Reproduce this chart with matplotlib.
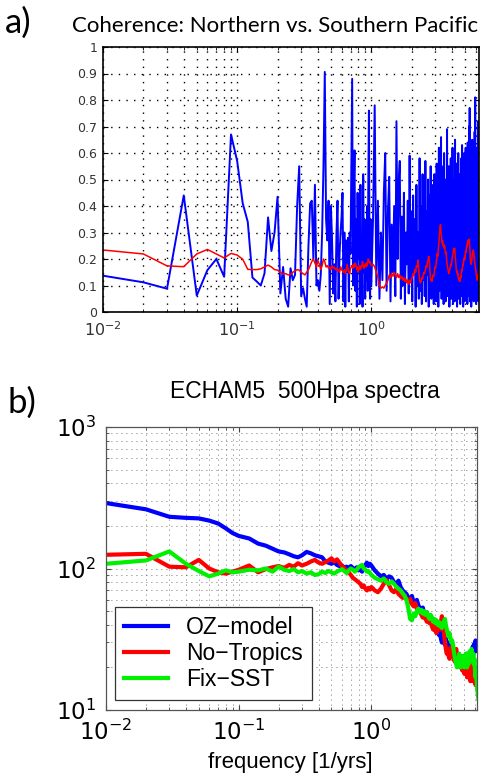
import numpy as np
import matplotlib
matplotlib.use("Agg")
import matplotlib.pyplot as plt
from matplotlib.ticker import FuncFormatter, NullFormatter

plt.rcParams["mathtext.fontset"] = "custom"
plt.rcParams["mathtext.rm"] = "Liberation Sans"
plt.rcParams["mathtext.it"] = "Liberation Sans:italic"
plt.rcParams["mathtext.bf"] = "Liberation Sans:bold"

# ---------------- a) coherence ----------------
# frequency grid [1/yrs]: 0.01 steps up to 1, then 0.03 steps up to 6.4
freq_lo = np.arange(1, 101) / 100
freq_hi = np.arange(103, 641, 3) / 100

coh_blue_lo = [0.137, 0.112, 0.088, 0.44, 0.062, 0.158, 0.20, 0.133, 0.67, 0.57,
               0.41, 0.34, 0.13, 0.115, 0.10, 0.146, 0.357, 0.23, 0.30, 0.435,
               0.07, 0.17, 0.05, 0.02, 0.165, 0.12, 0.14, 0.40, 0.55,
               0.06, 0.09, 0.05, 0.02, 0.25, 0.41, 0.42, 0.20, 0.48, 0.10,
               0.12, 0.08, 0.14, 0.30, 0.55, 0.906, 0.35, 0.27, 0.42, 0.03,
               0.40, 0.27, 0.07, 0.18, 0.04, 0.30, 0.42, 0.05, 0.22, 0.30,
               0.36, 0.45, 0.04, 0.30, 0.02, 0.27, 0.15, 0.28, 0.04, 0.30,
               0.22, 0.55, 0.88, 0.10, 0.45, 0.61, 0.08, 0.35, 0.02, 0.45,
               0.20, 0.30, 0.03, 0.48, 0.10, 0.25, 0.02, 0.52, 0.15, 0.35,
               0.05, 0.30, 0.12, 0.40, 0.08, 0.50, 0.76, 0.20, 0.05, 0.35,
               0.10]
coh_blue_hi = [0.35, 0.78, 0.10, 0.42, 0.05, 0.30, 0.12, 0.45, 0.60, 0.08,
               0.38, 0.51, 0.04, 0.33, 0.15, 0.40, 0.06, 0.72, 0.20, 0.49,
               0.57, 0.05, 0.36, 0.10, 0.45, 0.03, 0.30, 0.18, 0.42, 0.07,
               0.59, 0.12, 0.38, 0.04, 0.44, 0.15, 0.35, 0.02, 0.48, 0.10,
               0.30, 0.05, 0.58, 0.08, 0.40, 0.03, 0.52, 0.12, 0.45, 0.06,
               0.57, 0.04, 0.38, 0.14, 0.50, 0.02, 0.44, 0.09, 0.55, 0.05,
               0.36, 0.18, 0.48, 0.03, 0.52, 0.10, 0.40, 0.04, 0.56, 0.12,
               0.45, 0.02, 0.62, 0.08, 0.48, 0.15, 0.66, 0.05, 0.42, 0.10,
               0.55, 0.03, 0.60, 0.14, 0.38, 0.04, 0.50, 0.09, 0.69, 0.06,
               0.46, 0.18, 0.55, 0.02, 0.42, 0.12, 0.58, 0.05, 0.40, 0.16,
               0.62, 0.03, 0.50, 0.10, 0.45, 0.04, 0.65, 0.12, 0.38, 0.06,
               0.56, 0.02, 0.48, 0.15, 0.60, 0.05, 0.44, 0.10, 0.52, 0.03,
               0.40, 0.18, 0.58, 0.06, 0.63, 0.12, 0.45, 0.02, 0.55, 0.09,
               0.60, 0.04, 0.48, 0.14, 0.62, 0.05, 0.42, 0.11, 0.57, 0.03,
               0.64, 0.16, 0.50, 0.06, 0.70, 0.10, 0.77, 0.04, 0.55, 0.13,
               0.60, 0.02, 0.46, 0.12, 0.65, 0.05, 0.52, 0.18, 0.62, 0.04,
               0.58, 0.10, 0.68, 0.06, 0.81, 0.14, 0.55, 0.03, 0.62, 0.09,
               0.50, 0.05, 0.60, 0.15, 0.72, 0.04, 0.58, 0.10, 0.45, 0.06]

coh_red_lo = [0.234, 0.219, 0.174, 0.171, 0.219, 0.236, 0.219, 0.204, 0.221, 0.215,
              0.199, 0.161, 0.16, 0.16, 0.163, 0.17, 0.177, 0.17, 0.16, 0.158,
              0.15, 0.143, 0.145, 0.14, 0.142, 0.15, 0.155, 0.16, 0.158, 0.15,
              0.145, 0.14, 0.15, 0.16, 0.175, 0.19, 0.2, 0.185, 0.17, 0.195,
              0.18, 0.16, 0.175, 0.2, 0.19, 0.17, 0.175, 0.165, 0.17, 0.16,
              0.175, 0.165, 0.17, 0.16, 0.165, 0.155, 0.16, 0.15, 0.17, 0.16,
              0.155, 0.15, 0.16, 0.145, 0.155, 0.18, 0.16, 0.15, 0.145, 0.165,
              0.17, 0.175, 0.165, 0.18, 0.17, 0.185, 0.175, 0.16, 0.17, 0.15,
              0.165, 0.175, 0.16, 0.17, 0.175, 0.19, 0.17, 0.165, 0.175, 0.18,
              0.17, 0.185, 0.175, 0.19, 0.2, 0.19, 0.185, 0.19, 0.18, 0.175]
coh_red_hi = [0.18, 0.17, 0.15, 0.13, 0.10, 0.09, 0.095, 0.09, 0.10, 0.11,
              0.12, 0.14, 0.13, 0.145, 0.135, 0.15, 0.14, 0.13, 0.145, 0.13,
              0.14, 0.125, 0.135, 0.12, 0.13, 0.115, 0.125, 0.11, 0.12, 0.105,
              0.12, 0.11, 0.125, 0.13, 0.145, 0.14, 0.16, 0.15, 0.175, 0.17,
              0.196, 0.16, 0.12, 0.11, 0.115, 0.13, 0.125, 0.14, 0.15, 0.145,
              0.16, 0.175, 0.17, 0.185, 0.2, 0.21, 0.19, 0.15, 0.12, 0.125,
              0.115, 0.13, 0.14, 0.135, 0.15, 0.17, 0.165, 0.18, 0.2, 0.22,
              0.21, 0.24, 0.26, 0.29, 0.32, 0.33, 0.30, 0.28, 0.26, 0.27,
              0.25, 0.255, 0.24, 0.25, 0.23, 0.22, 0.225, 0.2, 0.18, 0.17,
              0.16, 0.15, 0.145, 0.155, 0.16, 0.17, 0.18, 0.175, 0.19, 0.2,
              0.21, 0.22, 0.225, 0.24, 0.23, 0.24, 0.22, 0.2, 0.18, 0.16,
              0.15, 0.155, 0.14, 0.145, 0.13, 0.125, 0.12, 0.13, 0.115, 0.12,
              0.135, 0.13, 0.15, 0.16, 0.155, 0.17, 0.18, 0.175, 0.19, 0.2,
              0.195, 0.21, 0.2, 0.22, 0.23, 0.225, 0.24, 0.25, 0.245, 0.26,
              0.255, 0.27, 0.265, 0.275, 0.26, 0.27, 0.25, 0.23, 0.2, 0.19,
              0.18, 0.185, 0.19, 0.2, 0.21, 0.22, 0.225, 0.23, 0.234, 0.225,
              0.21, 0.2, 0.19, 0.18, 0.17, 0.165, 0.16, 0.15, 0.14, 0.13,
              0.125, 0.12, 0.13, 0.125, 0.14, 0.135, 0.15, 0.145, 0.16, 0.15]

# ---------------- b) ECHAM5 500hPa spectra ----------------
freq_b = np.concatenate([np.arange(1, 11) / 100,
                         np.arange(12, 31, 2) / 100,
                         np.arange(325, 1001, 25) / 1000,
                         np.arange(106, 641, 6) / 100])
labels_b = ["OZ\u2212model", "No\u2212Tropics", "Fix\u2212SST"]
colors_b = ["#0000ff", "#ff0000", "#00f000"]

spec_oz = [290, 262, 232, 228, 226, 218, 208, 192, 178, 170,
           163, 150, 145, 138, 132, 130, 126, 122, 120, 124,
           131, 128, 124, 122, 120, 112, 110, 108, 111, 106,
           104, 105, 101, 103, 100, 104, 101, 98, 102, 97,
           99, 95, 101, 106, 110, 104, 108, 105,
           97, 92, 88, 90, 84, 88, 86, 80, 78, 82,
           74, 70, 68, 66, 62, 60, 64, 58, 56, 60,
           55, 52, 50, 53, 48, 46, 49, 44, 42, 45,
           40, 38, 41, 37, 35, 38, 34, 36, 32, 30,
           33, 31, 29, 32, 28, 27, 30, 26, 25, 28,
           24, 26, 23, 25, 22, 24, 21, 23, 25, 22,
           21, 24, 20, 22, 24, 21, 23, 20, 22, 25,
           21, 19, 22, 24, 20, 23, 26, 21, 24, 28,
           25, 29, 26, 30, 31, 27, 30, 26, 28, 29]
spec_notrop = [125, 127, 103, 102, 115, 100, 94, 92, 95, 98,
               105, 94, 99, 102, 104, 101, 106, 103, 109, 105,
               108, 112, 115, 110, 108, 111, 114, 118, 112, 116,
               110, 104, 100, 97, 94, 90, 86, 84, 82, 80,
               78, 74, 76, 72, 70, 73, 71, 74,
               70, 68, 72, 78, 83, 76, 70, 68, 72, 66,
               64, 62, 65, 60, 58, 61, 56, 54, 57, 52,
               49, 51, 47, 45, 48, 44, 42, 45, 41, 43,
               39, 37, 40, 36, 35, 38, 40, 37, 42, 46,
               40, 35, 30, 27, 25, 27, 24, 23, 26, 28,
               25, 27, 24, 22, 25, 27, 23, 21, 24, 22,
               20, 23, 21, 19, 22, 20, 18, 21, 23, 20,
               17, 19, 22, 20, 18, 16, 19, 21, 18, 16,
               19, 17, 20, 18, 15, 17, 19, 16, 14, 14]
spec_fixsst = [108, 114, 132, 108, 96, 88, 92, 97, 94, 95,
               98, 97, 100, 95, 103, 98, 96, 99, 94, 96,
               92, 94, 90, 91, 95, 93, 96, 94, 92, 95,
               97, 99, 96, 93, 97, 100, 98, 95, 98, 102,
               104, 106, 100, 98, 95, 96, 93, 90,
               86, 84, 82, 85, 80, 78, 81, 78, 74, 72,
               70, 67, 64, 60, 52, 44, 43, 48, 46, 50,
               52, 49, 51, 48, 50, 47, 49, 46, 44, 47,
               45, 42, 44, 41, 43, 40, 42, 39, 41, 38,
               40, 42, 44, 40, 37, 35, 33, 35, 32, 30,
               31, 29, 26, 24, 22, 21, 20, 21, 23, 25,
               22, 20, 22, 24, 21, 23, 20, 22, 25, 22,
               20, 23, 21, 24, 26, 22, 25, 27, 24, 22,
               25, 21, 23, 19, 17, 20, 16, 14, 13, 12]

assert len(coh_blue_lo) == len(freq_lo) and len(coh_red_lo) == len(freq_lo)
assert len(coh_blue_hi) == len(freq_hi) and len(coh_red_hi) == len(freq_hi)
assert len(spec_oz) == len(freq_b) == len(spec_notrop) == len(spec_fixsst)

W, H = 483, 779
fig = plt.figure(figsize=(W / 100, H / 100), dpi=100)

# ---- panel a ----
ax1 = fig.add_axes([103 / W, 1 - 312 / H, (479 - 103) / W, (312 - 47) / H])
f_coh = np.concatenate([freq_lo, freq_hi])
ax1.plot(f_coh, coh_blue_lo + coh_blue_hi, color="#0000ff", lw=1.4)
ax1.plot(f_coh, coh_red_lo + coh_red_hi, color="#ff0000", lw=1.1)
ax1.set_xscale("log")
ax1.set_xlim(0.01, 6.35)
ax1.set_ylim(0, 1)
ax1.set_yticks(np.arange(0, 11) / 10)
ax1.yaxis.set_major_formatter(FuncFormatter(lambda v, p: "%g" % v))
ax1.grid(True, which="major", ls=(0, (1, 4.5)), color="k", lw=1.0)
ax1.grid(True, which="minor", axis="x", ls=(0, (1, 4.5)), color="k", lw=1.0)
ax1.tick_params(which="both", direction="in", top=True, right=True)
ax1.tick_params(axis="y", labelsize=9, labelcolor="#333333", pad=4)
ax1.tick_params(axis="x", labelsize=11.5, labelcolor="#333333", pad=6)
ax1.xaxis.set_minor_formatter(NullFormatter())
for s in ax1.spines.values():
    s.set_linewidth(1.2)

fig.text(5 / W, 1 - 33 / H, "a)", fontsize=25, family="Lato", va="baseline")
fig.text(72 / W, 1 - 32 / H, "Coherence: Northern vs. Southern Pacific",
         fontsize=16, family="Lato", va="baseline")

# ---- panel b ----
ax2 = fig.add_axes([106 / W, 1 - 710 / H, (477 - 106) / W, (710 - 427) / H])
for spec, lab, col in zip([spec_oz, spec_notrop, spec_fixsst], labels_b, colors_b):
    ax2.plot(freq_b, spec, color=col, lw=3.0, label=lab)
ax2.set_xscale("log")
ax2.set_yscale("log")
ax2.set_xlim(0.01, 6.25)
ax2.set_ylim(10, 1000)
ax2.grid(True, which="both", ls=(0, (1, 5)), color="#444444", lw=0.6)
ax2.tick_params(which="both", direction="in", top=True, right=True, color="#444444")
ax2.tick_params(axis="both", labelsize=16.5, pad=7)
ax2.xaxis.set_minor_formatter(NullFormatter())
ax2.yaxis.set_minor_formatter(NullFormatter())
for s in ax2.spines.values():
    s.set_color("#555555")
    s.set_linewidth(0.9)
leg = ax2.legend(loc="lower left", bbox_to_anchor=(0.024, 0.035), borderaxespad=0,
                 fancybox=False, framealpha=1, edgecolor="#333333",
                 prop={"family": "Liberation Sans", "size": 16.5},
                 handlelength=1.9, handletextpad=0.8, labelspacing=0.12,
                 borderpad=0.4)
leg.get_frame().set_linewidth(0.9)

fig.text(7 / W, 1 - 413 / H, "b)", fontsize=25, family="Lato", va="baseline")
fig.text(304.5 / W, 1 - 398 / H, "ECHAM5  500Hpa spectra", ha="center",
         va="baseline", fontsize=16.5, family="Liberation Sans")
fig.text(290.5 / W, 1 - 768 / H, "frequency [1/yrs]", ha="center",
         va="baseline", fontsize=16, family="Liberation Sans")

fig.savefig("out.png", dpi=100)
